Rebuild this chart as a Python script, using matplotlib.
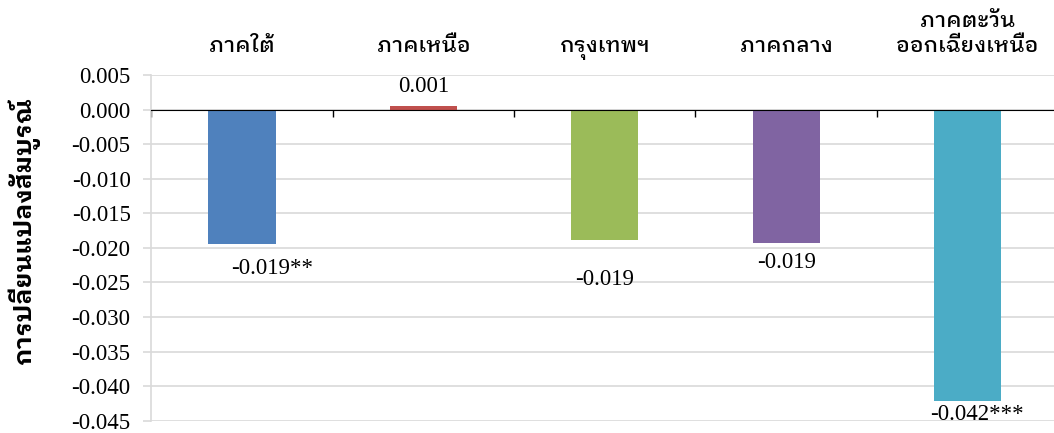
import matplotlib
matplotlib.use("Agg")
import matplotlib.pyplot as plt
from matplotlib.ticker import MultipleLocator, FixedLocator, FormatStrFormatter

# data
regions = ['ภาคใต้', 'ภาคเหนือ', 'กรุงเทพฯ', 'ภาคกลาง', 'ภาคตะวัน\nออกเฉียงเหนือ']
values = [-0.0195, 0.0005, -0.0189, -0.0193, -0.0421]
labels = ['-0.019**', '0.001', '-0.019', '-0.019', '-0.042***']
colors = ['#4F81BD', '#C0504D', '#9BBB59', '#8064A2', '#4BACC6']
# label offsets (points) from the bar end
offsets = [(22, -17), (0, 14), (0, -28), (0, -14), (7, -10)]

thai = ['IBM Plex Sans Thai Looped', 'Sarabun', 'DejaVu Sans']
serif = 'Liberation Serif'

fig = plt.figure(figsize=(10.54, 4.33), dpi=100)
ax = fig.add_axes([0.1436, 0.0284, 0.8604, 0.7984])

x = list(range(len(regions)))
bars = ax.bar(x, values, width=0.37, color=colors, zorder=3)

for b, v, lab, off in zip(bars, values, labels, offsets):
    ax.annotate(lab, (b.get_x() + b.get_width() / 2, v),
                xytext=off, textcoords='offset points',
                ha='center', va='center', fontsize=16.5, family=serif)

# category names above the plot
for i, name in zip(x, regions):
    ax.text(i, 1.067, name, transform=ax.get_xaxis_transform(),
            ha='center', va='baseline', fontsize=15.5, family=thai,
            fontweight='medium', linespacing=1.15)

ax.set_xlim(-0.5, len(regions) - 0.5)
ax.set_ylim(-0.045, 0.005)
ax.yaxis.set_major_locator(MultipleLocator(0.005))
ax.yaxis.set_major_formatter(FormatStrFormatter('%.3f'))
ax.grid(axis='y', color='#d9d9d9', linewidth=1.2, zorder=0)
ax.tick_params(axis='y', length=6, color='#d9d9d9', width=1.2, pad=9,
               labelsize=16.5, labelfontfamily=serif)

# boundary ticks on the zero line
ax.set_xticks([])
ax.xaxis.set_minor_locator(FixedLocator([i + 0.5 for i in x[:-1]] + [-0.5]))
ax.tick_params(axis='x', which='minor', length=5, width=1, direction='out',
               bottom=True, top=False, color='black')

ax.spines['bottom'].set_position(('data', 0))
ax.spines['bottom'].set_color('black')
ax.spines['bottom'].set_zorder(4)
ax.spines['top'].set_visible(False)
ax.spines['right'].set_visible(False)
ax.spines['left'].set_color('#d9d9d9')
ax.spines['left'].set_linewidth(1.2)

ax.set_ylabel('การปลี่ยนแปลงสัมบูรณ์', family=thai, fontsize=18, fontweight='bold')
ax.yaxis.set_label_coords(-0.123, 0.552)

fig.savefig('out.png', dpi=100)
